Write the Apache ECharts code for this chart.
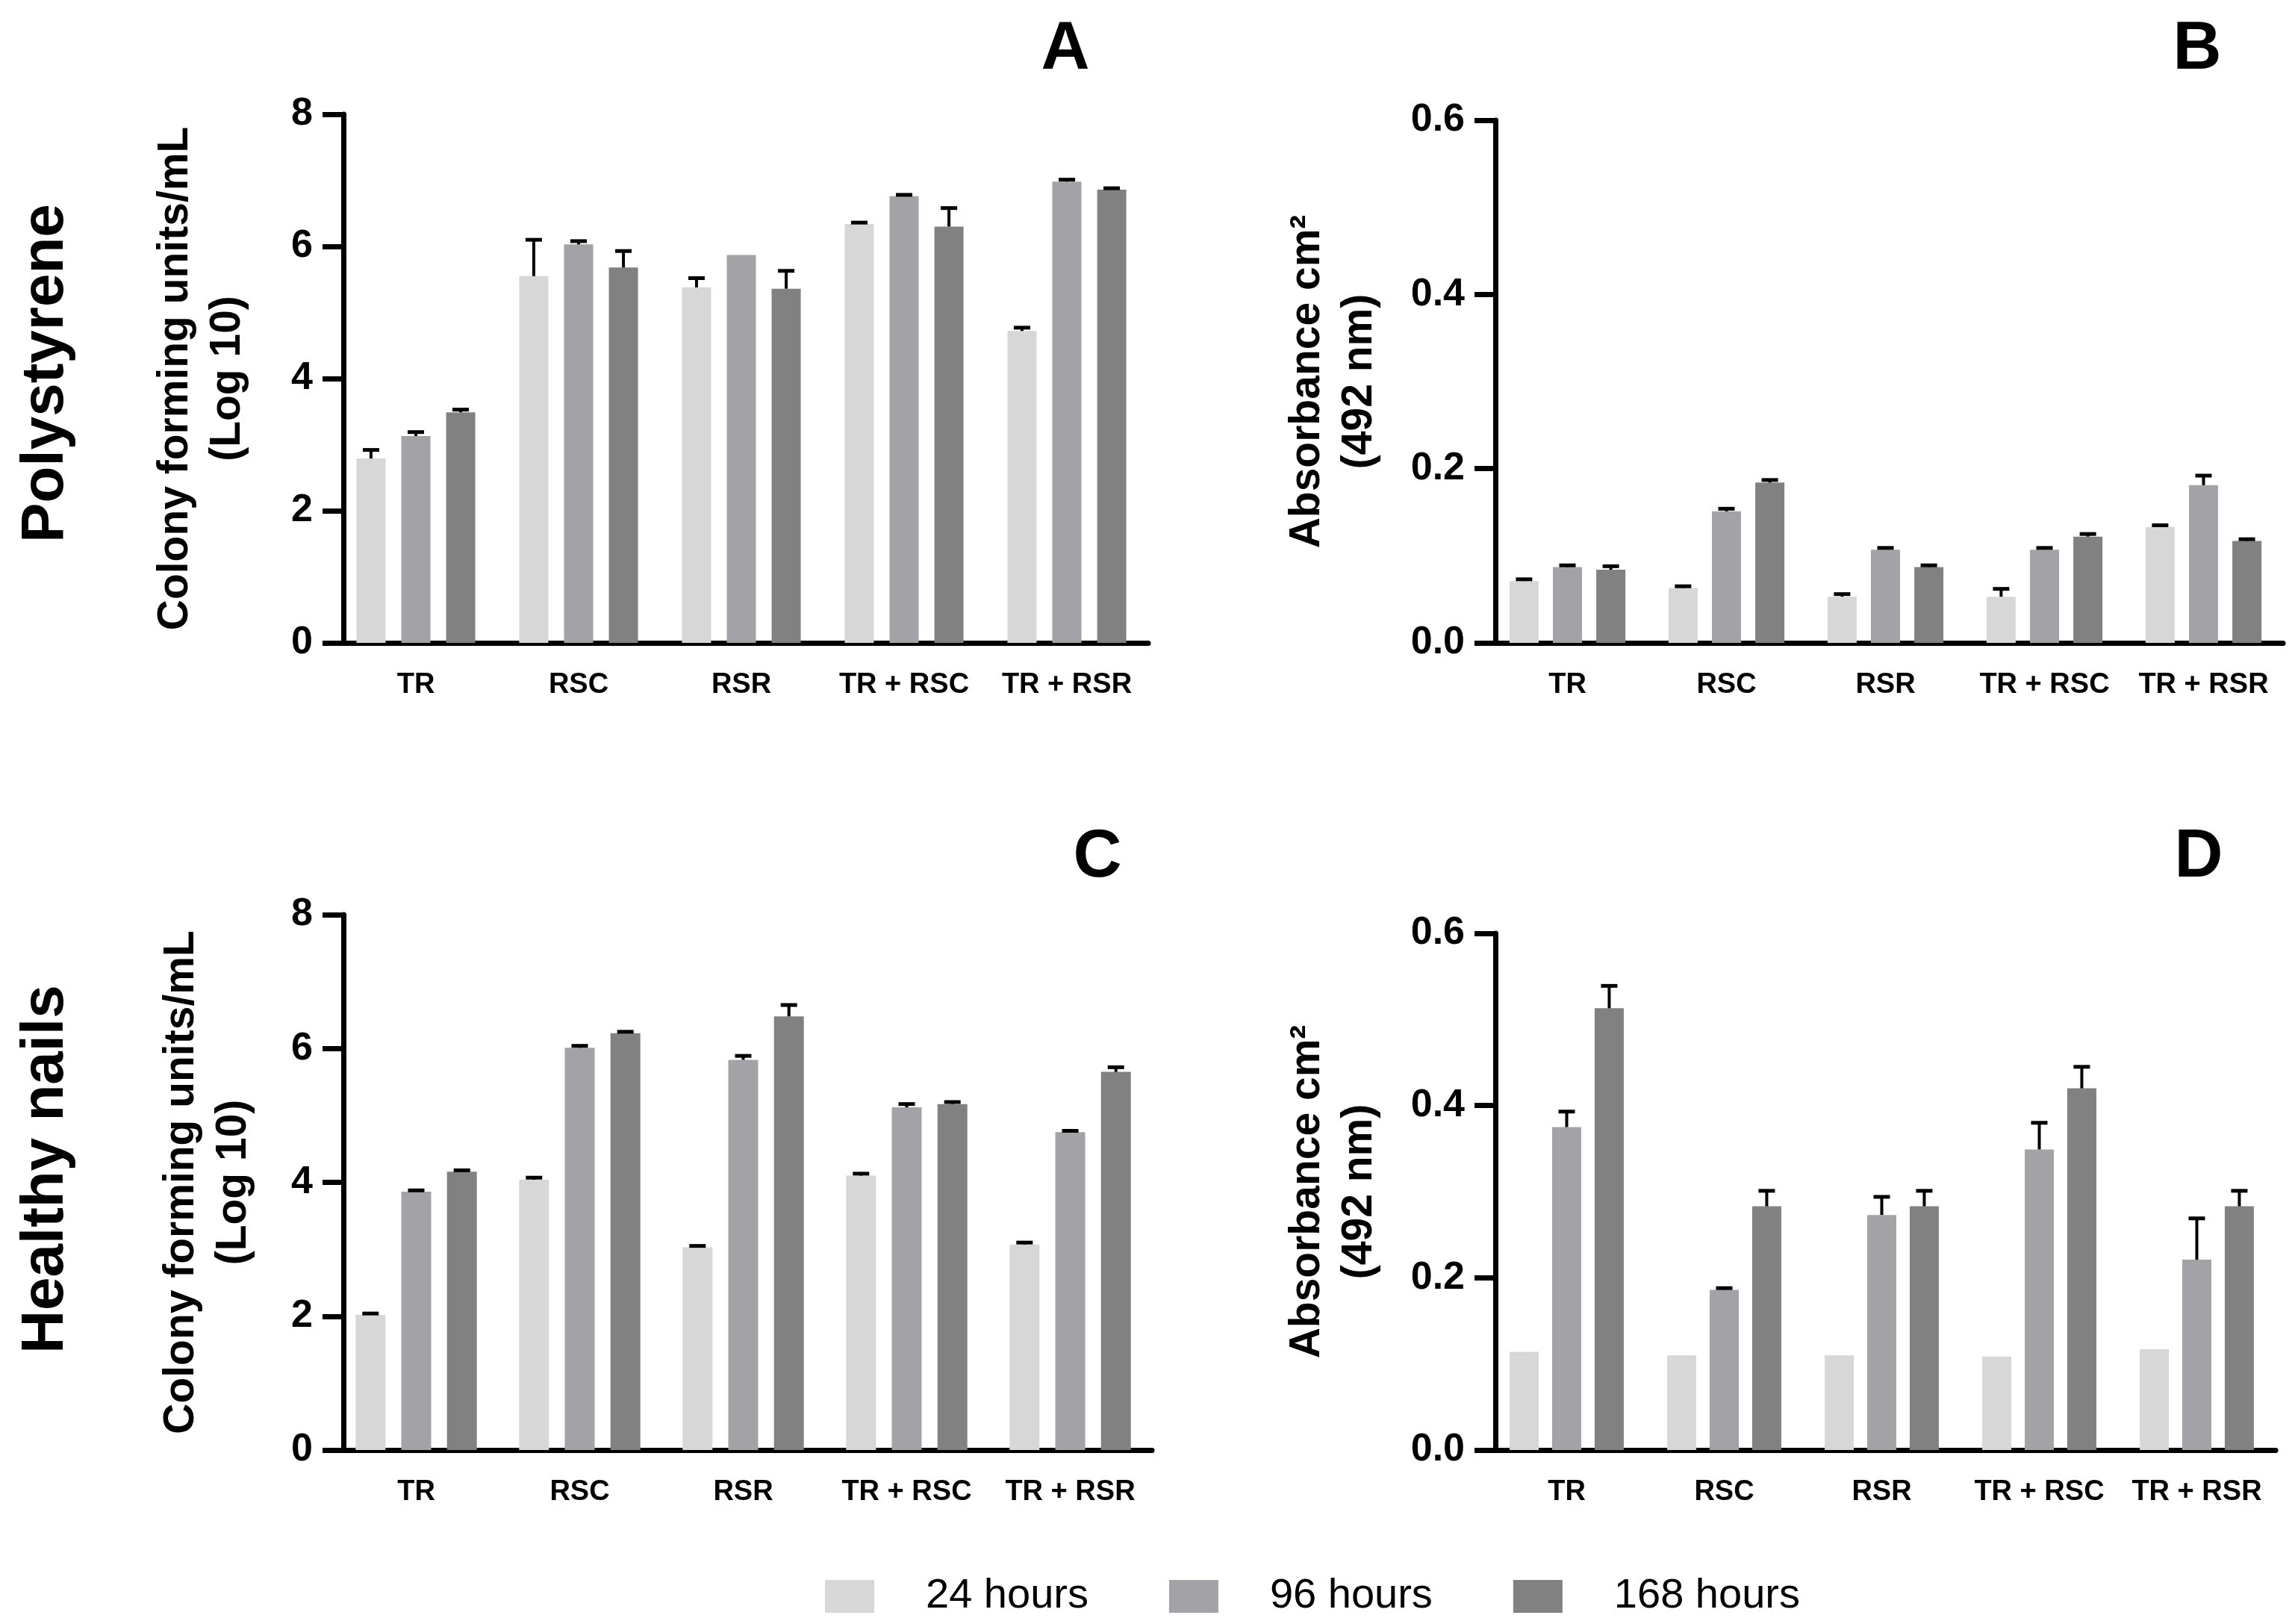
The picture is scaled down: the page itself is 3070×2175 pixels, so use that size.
<!DOCTYPE html>
<html><head><meta charset="utf-8">
<script src="https://cdn.jsdelivr.net/npm/echarts@6/dist/echarts.min.js"></script>
<style>html,body{margin:0;padding:0;background:#fff}#c{width:3070px;height:2175px}</style>
</head><body><div id="c"></div>
<script>
// ---------- data ----------
const categories = ['TR', 'RSC', 'RSR', 'TR + RSC', 'TR + RSR'];
const seriesNames = ['24 hours', '96 hours', '168 hours'];
const cfuTicks = [0, 2, 4, 6, 8];
const absTicks = [0, 0.2, 0.4, 0.6];

// A: Polystyrene, CFU/mL (log10)
const a24 = [2.79, 5.55, 5.38, 6.34, 4.72];
const a24err = [0.13, 0.55, 0.14, 0.02, 0.05];
const a96 = [3.13, 6.03, 5.87, 6.76, 6.98];
const a96err = [0.06, 0.05, 0, 0.02, 0.03];
const a168 = [3.49, 5.68, 5.36, 6.30, 6.86];
const a168err = [0.04, 0.25, 0.27, 0.28, 0.02];

// B: Polystyrene, absorbance
const b24 = [0.071, 0.063, 0.053, 0.053, 0.133];
const b24err = [0.002, 0.002, 0.003, 0.009, 0.002];
const b96 = [0.087, 0.151, 0.107, 0.107, 0.181];
const b96err = [0.002, 0.003, 0.002, 0.002, 0.011];
const b168 = [0.084, 0.184, 0.087, 0.122, 0.117];
const b168err = [0.004, 0.003, 0.002, 0.003, 0.002];

// C: Healthy nails, CFU/mL (log10)
const c24 = [2.02, 4.04, 3.03, 4.10, 3.07];
const c24err = [0.02, 0.03, 0.02, 0.03, 0.03];
const c96 = [3.86, 6.01, 5.83, 5.12, 4.75];
const c96err = [0.02, 0.03, 0.06, 0.05, 0.02];
const c168 = [4.16, 6.23, 6.48, 5.17, 5.65];
const c168err = [0.02, 0.02, 0.17, 0.03, 0.07];

// D: Healthy nails, absorbance
const d24 = [0.114, 0.110, 0.110, 0.1085, 0.117];
const d24err = [0, 0, 0, 0, 0];
const d96 = [0.375, 0.186, 0.273, 0.349, 0.221];
const d96err = [0.018, 0.002, 0.021, 0.031, 0.048];
const d168 = [0.513, 0.283, 0.283, 0.420, 0.283];
const d168err = [0.026, 0.018, 0.018, 0.025, 0.018];

// ---------- styling / layout ----------
const FONT = "'Liberation Sans', Arial, Helvetica, sans-serif";
const colors = ['#d7d7d7', '#a3a3a7', '#818181'];
const panels = [
  {vals: [a24, a96, a168], errs: [a24err, a96err, a168err], ticks: cfuTicks, name: 'Colony forming units/mL\n(Log 10)',
   left: 448, top: 153, width: 1090, height: 708, off: -12, bw: 39, gap: 54, nameGap: 120, dec: 0},
  {vals: [b24, b96, b168], errs: [b24err, b96err, b168err], ticks: absTicks, name: 'Absorbance cm\u00b2\n(492 nm)',
   left: 1993, top: 161, width: 1065, height: 700, off: -10, bw: 39, gap: 49, nameGap: 147, dec: 1},
  {vals: [c24, c96, c168], errs: [c24err, c96err, c168err], ticks: cfuTicks, name: 'Colony forming units/mL\n(Log 10)',
   left: 448, top: 1225, width: 1095, height: 717, off: -12, bw: 40, gap: 53, nameGap: 112, dec: 0},
  {vals: [d24, d96, d168], errs: [d24err, d96err, d168err], ticks: absTicks, name: 'Absorbance cm\u00b2\n(492 nm)',
   left: 1993, top: 1250, width: 1055, height: 692, off: -10, bw: 39, gap: 46, nameGap: 147, dec: 1}
];

const grid = [], xAxis = [], yAxis = [], series = [];
panels.forEach((p, g) => {
  grid.push({left: p.left, top: p.top, width: p.width, height: p.height, containLabel: false});
  xAxis.push({
    type: 'category', gridIndex: g, data: categories,
    axisLine: {lineStyle: {color: '#000', width: 7}},
    axisTick: {alignWithLabel: true, length: 22, lineStyle: {color: '#000', width: 7}},
    axisLabel: {color: '#000', fontSize: 38, fontWeight: 'bold', fontFamily: FONT, margin: 38, interval: 0}
  });
  const t = p.ticks;
  yAxis.push({
    type: 'value', gridIndex: g, min: t[0], max: t[t.length - 1], interval: t[1] - t[0], offset: p.off,
    axisLine: {show: true, lineStyle: {color: '#000', width: 7}},
    axisTick: {show: true, length: 28, lineStyle: {color: '#000', width: 7}},
    splitLine: {show: false},
    axisLabel: {color: '#000', fontSize: 52, fontWeight: 'bold', fontFamily: FONT, margin: 41,
      formatter: v => v.toFixed(p.dec)},
    name: p.name, nameLocation: 'middle', nameRotate: 90, nameGap: p.nameGap,
    nameTextStyle: {color: '#000', fontSize: 57, fontWeight: 'bold', fontFamily: FONT, lineHeight: 70, align: 'center'}
  });
  const pitch = p.bw * (1 + p.gap / 100);
  for (let k = 0; k < 3; k++) {
    series.push({
      type: 'bar', name: seriesNames[k], xAxisIndex: g, yAxisIndex: g,
      data: p.vals[k], barWidth: p.bw, barGap: p.gap + '%',
      itemStyle: {color: colors[k]}, z: 2
    });
  }
  for (let k = 0; k < 3; k++) {
    const vals = p.vals[k], errs = p.errs[k];
    series.push({
      type: 'custom', name: seriesNames[k] + ' SD', xAxisIndex: g, yAxisIndex: g, z: 5,
      data: vals.map((v, i) => [i, v, v + errs[i]]),
      encode: {x: 0, y: [1, 2]},
      renderItem: function (params, api) {
        const i = api.value(0), v = api.value(1), hi = api.value(2);
        if (!(hi > v)) return null;
        const base = api.coord([i, v]);
        const top = api.coord([i, hi]);
        const x = base[0] + (k - 1) * pitch;
        return {type: 'group', children: [
          {type: 'line', shape: {x1: x, y1: base[1], x2: x, y2: top[1]}, style: {stroke: '#000', lineWidth: 4}},
          {type: 'line', shape: {x1: x - 11, y1: top[1], x2: x + 11, y2: top[1]}, style: {stroke: '#000', lineWidth: 5}}
        ]};
      }
    });
  }
});

const letter = (txt, x, y) => ({type: 'text', x: x, y: y, style: {text: txt, font: 'bold 90px ' + FONT, fill: '#000', textAlign: 'center', textVerticalAlign: 'middle'}});
const rowTitle = (txt, x, y) => ({type: 'text', x: x, y: y, rotation: Math.PI / 2, style: {text: txt, font: 'bold 80px ' + FONT, fill: '#000', textAlign: 'center', textVerticalAlign: 'middle'}});

const option = {
  backgroundColor: '#fff',
  animation: false,
  grid, xAxis, yAxis, series,
  legend: {
    data: seriesNames, left: 1100, top: 2105, icon: 'rect', itemWidth: 66, itemHeight: 44, itemGap: 108,
    textStyle: {color: '#000', fontSize: 56, fontFamily: FONT, padding: [0, 0, 0, 64]}
  },
  graphic: [
    letter('A', 1427, 67), letter('B', 2943, 67), letter('C', 1470, 1149), letter('D', 2945, 1149),
    rowTitle('Polystyrene', 62, 500), rowTitle('Healthy nails', 62, 1566)
  ]
};
const chart = echarts.init(document.getElementById('c'), null, {renderer: 'canvas'});
chart.setOption(option);
</script></body></html>
